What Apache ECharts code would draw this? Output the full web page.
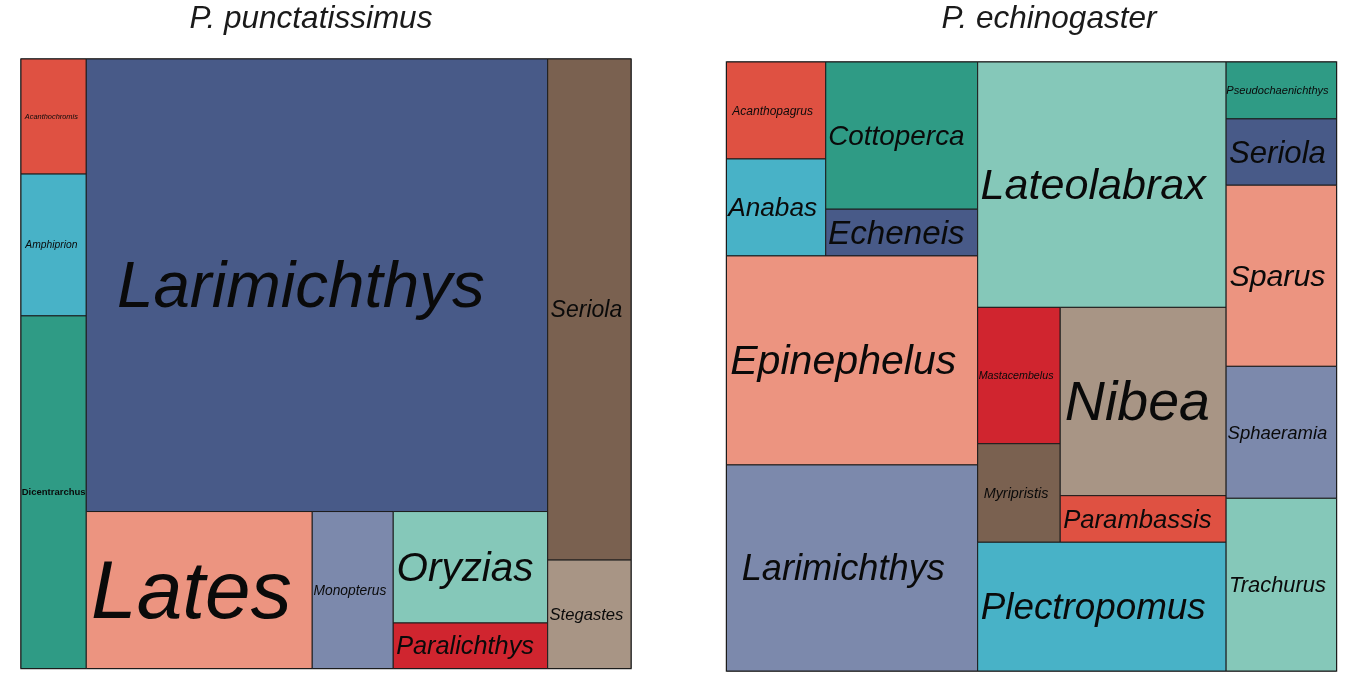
<!DOCTYPE html>
<html>
<head>
<meta charset="utf-8">
<script src="https://cdn.jsdelivr.net/npm/echarts@6/dist/echarts.min.js"></script>
<style>
html,body{margin:0;padding:0;background:#ffffff;}
#chart{width:1358px;height:693px;}
</style>
</head>
<body>
<div id="chart"></div>
<script>
// ---------------- DATA ----------------
const leftTitle = 'P. punctatissimus';
const rightTitle = 'P. echinogaster';

const leftGenera = ['Acanthochromis', 'Amphiprion', 'Dicentrarchus', 'Larimichthys', 'Lates',
  'Monopterus', 'Oryzias', 'Paralichthys', 'Seriola', 'Stegastes'];
const leftShare = [2.02, 2.49, 6.19, 56.16, 9.54, 3.42, 4.63, 1.89, 11.23, 2.43];

const rightGenera = ['Acanthopagrus', 'Anabas', 'Cottoperca', 'Echeneis', 'Epinephelus',
  'Larimichthys', 'Lateolabrax', 'Mastacembelus', 'Myripristis', 'Nibea', 'Parambassis',
  'Plectropomus', 'Pseudochaenichthys', 'Seriola', 'Sparus', 'Sphaeramia', 'Trachurus'];
const rightShare = [2.59, 2.59, 6.02, 1.91, 14.13, 13.93, 16.41, 3.03, 2.19, 8.41, 2.08,
  8.61, 1.69, 1.97, 5.38, 3.92, 5.13];

// ---------------- STYLE ----------------
const palette = ['#DF5142', '#48B2C7', '#2F9B85', '#485A88', '#EC9480',
  '#7C89AC', '#85C8B9', '#D0252F', '#7A6150', '#A89585'];
const FONT = '"Liberation Sans", Arial, Helvetica, sans-serif';
const leftLabelSize = {
  Acanthochromis: 7.4, Amphiprion: 10.3, Dicentrarchus: 9.5, Larimichthys: 65.5, Lates: 82,
  Monopterus: 13.8, Oryzias: 40.4, Paralichthys: 25.3, Seriola: 23, Stegastes: 16.6
};
const rightLabelSize = {
  Acanthopagrus: 12, Anabas: 26.2, Cottoperca: 27.9, Echeneis: 33.2, Epinephelus: 41.1,
  Larimichthys: 36.2, Lateolabrax: 43.1, Mastacembelus: 10.7, Myripristis: 14.4, Nibea: 55.5,
  Parambassis: 25.7, Plectropomus: 36.8, Pseudochaenichthys: 11.1, Seriola: 31.1, Sparus: 30.3,
  Sphaeramia: 18.5, Trachurus: 21.9
};
const specialLabel = { Dicentrarchus: { fontWeight: 'bold', fontStyle: 'normal', shift: 0 } };
const leftPanel = { left: 21, top: 59, width: 610, height: 609.5 };
const rightPanel = { left: 726.5, top: 62, width: 610, height: 609 };
const TITLE_SIZE = 31.5;

// ---------------- PIVOT-BY-SIZE TREEMAP LAYOUT ----------------
function sumArea(list) { return list.reduce((s, it) => s + it.area, 0); }

function pivotBySize(items, x, y, w, h, out) {
  if (!items.length) return;
  if (items.length === 1) { out[items[0].idx] = { x, y, w, h }; return; }
  const total = sumArea(items);
  let p = 0;
  for (let i = 1; i < items.length; i++) if (items[i].area > items[p].area) p = i;
  const piv = items[p];
  const L1 = items.slice(0, p);
  const rest = items.slice(p + 1);
  const wide = w >= h;
  let rx = x, ry = y, rw = w, rh = h;
  const a1 = sumArea(L1);
  if (L1.length) {
    if (wide) {
      const w1 = w * a1 / total;
      pivotBySize(L1, x, y, w1, h, out);
      rx = x + w1; rw = w - w1;
    } else {
      const h1 = h * a1 / total;
      pivotBySize(L1, x, y, w, h1, out);
      ry = y + h1; rh = h - h1;
    }
  }
  const remTotal = total - a1;
  let bestJ = 0, bestAr = Infinity;
  for (let j = 0; j <= rest.length; j++) {
    const colArea = piv.area + sumArea(rest.slice(0, j));
    let pw, ph;
    if (wide) { pw = rw * colArea / remTotal; ph = rh * piv.area / colArea; }
    else { ph = rh * colArea / remTotal; pw = rw * piv.area / colArea; }
    const ar = Math.max(pw / ph, ph / pw);
    if (ar < bestAr) { bestAr = ar; bestJ = j; }
  }
  const L2 = rest.slice(0, bestJ);
  const L3 = rest.slice(bestJ);
  const colArea = piv.area + sumArea(L2);
  if (wide) {
    const colW = rw * colArea / remTotal;
    const ph = rh * piv.area / colArea;
    out[piv.idx] = { x: rx, y: ry, w: colW, h: ph };
    pivotBySize(L2, rx, ry + ph, colW, rh - ph, out);
    pivotBySize(L3, rx + colW, ry, rw - colW, rh, out);
  } else {
    const rowH = rh * colArea / remTotal;
    const pw = rw * piv.area / colArea;
    out[piv.idx] = { x: rx, y: ry, w: pw, h: rowH };
    pivotBySize(L2, rx + pw, ry, rw - pw, rowH, out);
    pivotBySize(L3, rx, ry + rowH, rw, rh - rowH, out);
  }
}

function buildRects(values, W, H) {
  const total = values.reduce((s, v) => s + v, 0);
  const items = values.map((v, i) => ({ idx: i, area: v / total * W * H }));
  const out = [];
  pivotBySize(items, 0, 0, W, H, out);
  return out.map(r => [r.x, r.y, r.x + r.w, r.y + r.h]);
}

function makeSeries(k, genera, values, sizes, panel) {
  const rects = buildRects(values, panel.width, panel.height);
  return {
    type: 'custom',
    xAxisIndex: k,
    yAxisIndex: k,
    encode: { x: [0, 2], y: [1, 3] },
    silent: true,
    animation: false,
    data: rects.map((r, i) => ({ name: genera[i], value: r.concat([values[i]]) })),
    renderItem: function (params, api) {
      const i = params.dataIndex;
      const name = genera[i];
      const p0 = api.coord([api.value(0), api.value(1)]);
      const p1 = api.coord([api.value(2), api.value(3)]);
      const x = Math.min(p0[0], p1[0]);
      const y = Math.min(p0[1], p1[1]);
      const w = Math.abs(p1[0] - p0[0]);
      const h = Math.abs(p1[1] - p0[1]);
      const sp = specialLabel[name] || {};
      const shift = sp.shift !== undefined ? sp.shift : -0.035;
      const fs = sizes[name];
      return {
        type: 'group',
        children: [
          {
            type: 'rect',
            shape: { x: x, y: y, width: w, height: h },
            style: { fill: palette[i % palette.length], stroke: '#1c1c1c', lineWidth: 1 }
          },
          {
            type: 'text',
            x: x + w / 2 + shift * w,
            y: y + h / 2 + 0.06 * fs,
            style: {
              text: name,
              fontSize: fs,
              fontFamily: FONT,
              fontStyle: sp.fontStyle || 'italic',
              fontWeight: sp.fontWeight || 'normal',
              fill: '#0a0a0a',
              align: 'center',
              verticalAlign: 'middle'
            }
          }
        ]
      };
    }
  };
}

const chart = echarts.init(document.getElementById('chart'), null, { renderer: 'canvas' });
const panels = [leftPanel, rightPanel];
chart.setOption({
  animation: false,
  backgroundColor: '#ffffff',
  grid: panels.map(p => ({
    left: p.left, top: p.top, width: p.width, height: p.height,
    show: true, borderColor: '#333333', borderWidth: 1.5, backgroundColor: 'transparent'
  })),
  xAxis: panels.map((p, k) => ({ type: 'value', gridIndex: k, min: 0, max: p.width, show: false })),
  yAxis: panels.map((p, k) => ({ type: 'value', gridIndex: k, min: 0, max: p.height, inverse: true, show: false })),
  series: [
    makeSeries(0, leftGenera, leftShare, leftLabelSize, leftPanel),
    makeSeries(1, rightGenera, rightShare, rightLabelSize, rightPanel)
  ],
  graphic: [
    { type: 'text', x: 311, y: 19.5, style: { text: leftTitle, fontSize: TITLE_SIZE, fontFamily: FONT, fontStyle: 'italic', fill: '#1a1a1a', align: 'center', verticalAlign: 'middle' } },
    { type: 'text', x: 1049, y: 19.5, style: { text: rightTitle, fontSize: TITLE_SIZE, fontFamily: FONT, fontStyle: 'italic', fill: '#1a1a1a', align: 'center', verticalAlign: 'middle' } }
  ]
});
</script>
</body>
</html>
